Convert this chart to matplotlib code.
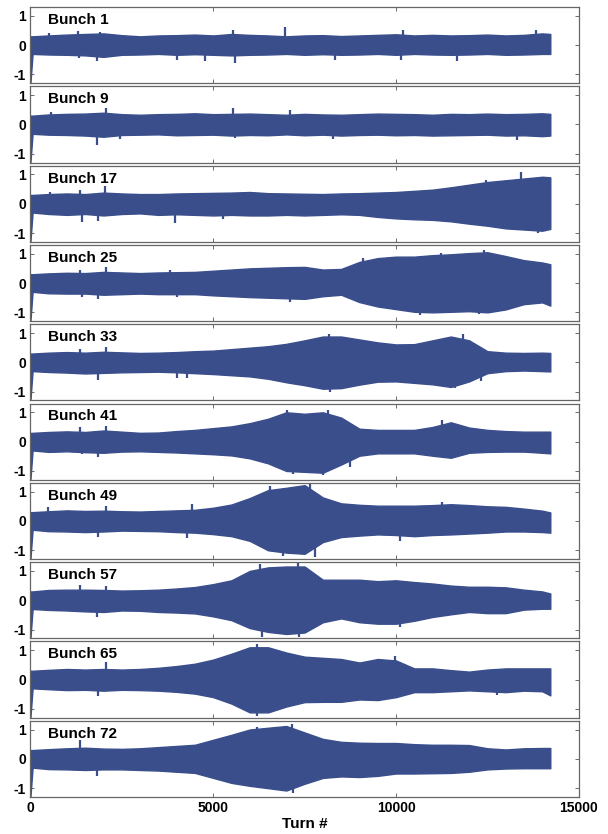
import numpy as np
import matplotlib.pyplot as plt

plt.rcParams['font.family'] = ['Liberation Sans', 'DejaVu Sans']
plt.rcParams['font.weight'] = 'bold'
plt.rcParams['axes.unicode_minus'] = False

turns = [0, 60, 500, 1000, 1500, 2000, 2500, 3000, 3500, 4000, 4500, 5000,
         5500, 6000, 6500, 7000, 7500, 8000, 8500, 9000, 9500, 10000, 10500,
         11000, 11500, 12000, 12500, 13000, 13500, 14000, 14220]

bunches = [1, 9, 17, 25, 33, 41, 49, 57, 65, 72]

# upper / lower envelope of the bunch position signal
up_1 = [0.30, 0.30, 0.33, 0.36, 0.38, 0.40, 0.34, 0.30, 0.33, 0.34, 0.36, 0.33, 0.38, 0.35, 0.33, 0.30,
        0.33, 0.34, 0.31, 0.33, 0.35, 0.37, 0.33, 0.35, 0.33, 0.34, 0.36, 0.33, 0.35, 0.40, 0.38]
lo_1 = [-1.30, -0.30, -0.32, -0.33, -0.35, -0.40, -0.33, -0.32, -0.30, -0.33, -0.31, -0.33, -0.35, -0.33, -0.32, -0.30,
        -0.33, -0.31, -0.33, -0.32, -0.30, -0.33, -0.30, -0.32, -0.33, -0.32, -0.30, -0.33, -0.32, -0.30, -0.30]
up_9 = [0.30, 0.30, 0.34, 0.36, 0.37, 0.40, 0.35, 0.33, 0.35, 0.36, 0.38, 0.35, 0.36, 0.37, 0.35, 0.33,
        0.36, 0.34, 0.33, 0.35, 0.37, 0.36, 0.35, 0.33, 0.36, 0.35, 0.37, 0.35, 0.36, 0.38, 0.36]
lo_9 = [-1.30, -0.32, -0.35, -0.36, -0.38, -0.42, -0.36, -0.35, -0.34, -0.37, -0.36, -0.35, -0.38, -0.36, -0.37, -0.34,
        -0.37, -0.35, -0.38, -0.36, -0.35, -0.37, -0.36, -0.38, -0.37, -0.36, -0.35, -0.38, -0.37, -0.40, -0.38]
up_17 = [0.30, 0.30, 0.33, 0.35, 0.33, 0.38, 0.35, 0.33, 0.33, 0.35, 0.36, 0.37, 0.38, 0.40, 0.36, 0.35,
         0.34, 0.33, 0.35, 0.36, 0.38, 0.40, 0.44, 0.48, 0.56, 0.65, 0.74, 0.80, 0.86, 0.92, 0.90]
lo_17 = [-1.30, -0.30, -0.35, -0.38, -0.35, -0.40, -0.35, -0.33, -0.38, -0.36, -0.38, -0.40, -0.38, -0.40, -0.40, -0.38,
         -0.40, -0.38, -0.36, -0.38, -0.45, -0.50, -0.53, -0.55, -0.60, -0.68, -0.75, -0.84, -0.88, -0.92, -0.86]
up_25 = [0.30, 0.30, 0.33, 0.35, 0.34, 0.38, 0.36, 0.34, 0.36, 0.37, 0.38, 0.42, 0.46, 0.50, 0.52, 0.54,
         0.55, 0.46, 0.48, 0.72, 0.85, 0.90, 0.90, 0.95, 0.98, 1.02, 1.05, 0.92, 0.78, 0.70, 0.64]
lo_25 = [-1.30, -0.30, -0.35, -0.36, -0.36, -0.40, -0.38, -0.36, -0.38, -0.38, -0.38, -0.42, -0.45, -0.48, -0.50, -0.52,
         -0.54, -0.45, -0.40, -0.65, -0.80, -0.89, -0.98, -1.00, -0.98, -0.96, -1.00, -0.90, -0.72, -0.66, -0.77]
up_33 = [0.30, 0.30, 0.33, 0.35, 0.33, 0.36, 0.34, 0.32, 0.33, 0.35, 0.38, 0.40, 0.45, 0.50, 0.55, 0.63,
         0.75, 0.88, 0.88, 0.78, 0.68, 0.61, 0.62, 0.75, 0.88, 0.75, 0.38, 0.33, 0.32, 0.33, 0.32]
lo_33 = [-1.30, -0.30, -0.33, -0.35, -0.38, -0.36, -0.34, -0.33, -0.32, -0.34, -0.37, -0.40, -0.44, -0.48, -0.56, -0.68,
         -0.78, -0.90, -0.88, -0.76, -0.66, -0.65, -0.70, -0.75, -0.84, -0.65, -0.37, -0.30, -0.28, -0.30, -0.31]
up_41 = [0.30, 0.30, 0.33, 0.35, 0.33, 0.38, 0.34, 0.30, 0.31, 0.36, 0.40, 0.46, 0.52, 0.63, 0.78, 1.00,
         0.95, 1.00, 0.82, 0.44, 0.40, 0.40, 0.40, 0.50, 0.66, 0.48, 0.40, 0.36, 0.34, 0.34, 0.34]
lo_41 = [-1.30, -0.30, -0.35, -0.33, -0.36, -0.38, -0.34, -0.33, -0.35, -0.37, -0.40, -0.43, -0.47, -0.57, -0.74, -1.00,
         -1.03, -1.06, -0.78, -0.48, -0.40, -0.40, -0.40, -0.48, -0.55, -0.38, -0.35, -0.34, -0.34, -0.38, -0.40]
up_49 = [0.30, 0.30, 0.33, 0.36, 0.34, 0.35, 0.33, 0.32, 0.34, 0.36, 0.38, 0.45, 0.56, 0.78, 1.05, 1.13,
         1.22, 0.80, 0.60, 0.55, 0.52, 0.52, 0.52, 0.54, 0.57, 0.54, 0.50, 0.48, 0.42, 0.35, 0.29]
lo_49 = [-1.30, -0.30, -0.35, -0.36, -0.38, -0.36, -0.33, -0.34, -0.35, -0.38, -0.40, -0.45, -0.52, -0.68, -1.00, -1.08,
         -1.12, -0.72, -0.55, -0.50, -0.46, -0.48, -0.52, -0.48, -0.46, -0.43, -0.40, -0.36, -0.36, -0.38, -0.40]
up_57 = [0.30, 0.30, 0.35, 0.36, 0.36, 0.35, 0.33, 0.34, 0.36, 0.40, 0.45, 0.55, 0.68, 1.00, 1.12, 1.15,
         1.15, 0.70, 0.70, 0.70, 0.65, 0.68, 0.62, 0.57, 0.50, 0.46, 0.46, 0.44, 0.36, 0.30, 0.23]
lo_57 = [-1.30, -0.30, -0.33, -0.35, -0.38, -0.40, -0.35, -0.36, -0.40, -0.42, -0.45, -0.55, -0.68, -0.95, -1.08, -1.15,
         -1.10, -0.75, -0.62, -0.75, -0.80, -0.80, -0.70, -0.57, -0.48, -0.40, -0.44, -0.44, -0.32, -0.29, -0.29]
up_65 = [0.30, 0.30, 0.33, 0.36, 0.34, 0.36, 0.34, 0.36, 0.40, 0.46, 0.54, 0.68, 0.88, 1.10, 1.10, 0.92,
         0.78, 0.74, 0.70, 0.58, 0.70, 0.65, 0.38, 0.38, 0.32, 0.27, 0.34, 0.38, 0.38, 0.38, 0.38]
lo_65 = [-1.30, -0.30, -0.33, -0.36, -0.35, -0.38, -0.35, -0.36, -0.38, -0.42, -0.48, -0.60, -0.82, -1.12, -1.12, -0.92,
         -0.77, -0.76, -0.76, -0.68, -0.70, -0.60, -0.43, -0.43, -0.40, -0.37, -0.40, -0.43, -0.38, -0.40, -0.54]
up_72 = [0.30, 0.30, 0.33, 0.36, 0.38, 0.35, 0.34, 0.36, 0.40, 0.44, 0.48, 0.65, 0.82, 1.00, 1.06, 1.12,
         0.90, 0.68, 0.58, 0.55, 0.54, 0.54, 0.50, 0.48, 0.48, 0.47, 0.36, 0.32, 0.36, 0.37, 0.37]
lo_72 = [-1.30, -0.30, -0.35, -0.36, -0.38, -0.36, -0.36, -0.38, -0.40, -0.44, -0.48, -0.65, -0.82, -0.92, -1.00, -1.08,
         -0.85, -0.65, -0.60, -0.62, -0.58, -0.50, -0.50, -0.49, -0.48, -0.44, -0.36, -0.33, -0.32, -0.32, -0.32]

# isolated spikes sticking out of the envelope (turn, value)
spk_t_1 = [510, 1300, 1340, 1820, 1900, 4000, 4770, 5530, 5590, 6960, 8320, 10150, 10180, 11680, 13840]
spk_v_1 = [0.43, 0.48, -0.45, -0.55, 0.45, -0.49, -0.55, 0.52, -0.61, 0.62, -0.52, -0.52, 0.53, -0.55, 0.52]
spk_t_9 = [560, 1820, 2070, 2450, 5530, 5590, 7090, 8270, 13320]
spk_v_9 = [0.42, -0.70, 0.57, -0.48, 0.57, -0.46, 0.50, -0.50, -0.52]
spk_t_17 = [540, 1360, 1400, 1850, 2040, 3950, 5270, 12470, 13430, 13870]
spk_v_17 = [0.40, 0.46, -0.62, -0.59, 0.60, -0.66, -0.52, 0.80, 1.09, -1.01]
spk_t_25 = [1360, 1400, 1850, 2070, 3820, 4010, 7090, 9090, 10650, 11240, 12280, 12420]
spk_v_25 = [0.46, -0.48, -0.56, 0.55, 0.46, -0.47, -0.65, 0.84, -1.08, 1.03, -1.06, 1.13]
spk_t_33 = [1360, 1850, 2070, 4010, 4280, 8180, 8200, 11600, 11820, 12330]
spk_v_33 = [0.46, -0.60, 0.52, -0.52, -0.54, 0.95, -1.00, -0.89, 0.95, -0.65]
spk_t_41 = [1360, 1400, 1850, 2070, 7010, 7190, 8010, 8140, 8730, 11270]
spk_v_41 = [0.49, -0.43, -0.52, 0.55, 1.09, -1.09, -1.15, 1.07, -0.86, 0.75]
spk_t_49 = [480, 1850, 2070, 4280, 4410, 6540, 6920, 7640, 7780, 10100, 11270]
spk_v_49 = [0.49, -0.55, 0.52, -0.57, 0.57, 1.18, -1.18, 1.30, -1.23, -0.69, 0.66]
spk_t_57 = [1360, 1820, 2070, 6270, 6330, 7320, 7340, 10100]
spk_v_57 = [0.52, -0.58, 0.48, 1.23, -1.26, 1.30, -1.24, -0.90]
spk_t_65 = [1850, 2070, 4720, 6190, 6210, 9970, 12750]
spk_v_65 = [-0.55, 0.60, -0.55, 1.21, -1.26, 0.80, -0.54]
spk_t_72 = [1360, 1820, 6190, 7150, 7170]
spk_v_72 = [0.63, -0.57, 1.09, 1.20, -1.18]

uppers = [up_1, up_9, up_17, up_25, up_33, up_41, up_49, up_57, up_65, up_72]
lowers = [lo_1, lo_9, lo_17, lo_25, lo_33, lo_41, lo_49, lo_57, lo_65, lo_72]
spk_ts = [spk_t_1, spk_t_9, spk_t_17, spk_t_25, spk_t_33, spk_t_41, spk_t_49, spk_t_57, spk_t_65, spk_t_72]
spk_vs = [spk_v_1, spk_v_9, spk_v_17, spk_v_25, spk_v_33, spk_v_41, spk_v_49, spk_v_57, spk_v_65, spk_v_72]

blue = '#3A4E8C'

fig, axes = plt.subplots(10, 1, figsize=(6.08, 8.34), dpi=100, sharex=True)
fig.subplots_adjust(left=0.05, right=0.952, top=0.9916, bottom=0.0444, hspace=0.04)

for i, ax in enumerate(axes):
    ax.fill_between(turns, lowers[i], uppers[i], color=blue, lw=1.0, edgecolor=blue)
    ax.vlines(spk_ts[i], 0, spk_vs[i], color=blue, lw=1.6)
    ax.set_xlim(0, 15000)
    ax.set_ylim(-1.3, 1.3)
    ax.set_yticks([-1, 0, 1])
    ax.set_xticks([0, 5000, 10000, 15000])
    ax.tick_params(direction='in', top=True, right=True, length=3,
                   width=0.6, color='#555555', labelsize=10, pad=3)
    for s in ax.spines.values():
        s.set_color('#666666')
        s.set_linewidth(0.9)
    ax.text(0.032, 0.83, 'Bunch %d' % bunches[i], transform=ax.transAxes,
            fontsize=11, fontweight='bold', va='center', ha='left')

axes[-1].set_xlabel('Turn #', fontsize=11, fontweight='bold', labelpad=1)

plt.savefig('out.png')
